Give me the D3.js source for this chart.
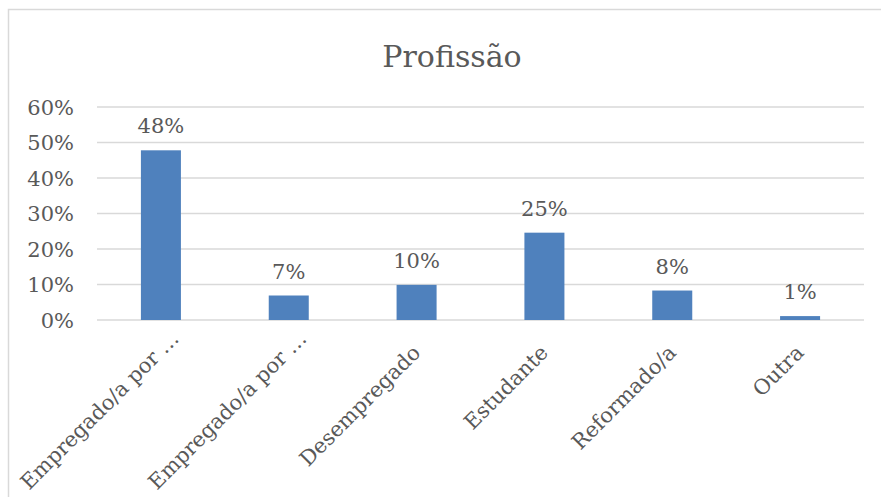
<!DOCTYPE html>
<html>
<head>
<meta charset="utf-8">
<script src="https://cdn.jsdelivr.net/npm/d3@7"></script>
<style>
  body { margin: 0; background: #fff; }
  text { font-family: "DejaVu Serif", serif; fill: #595959; }
</style>
</head>
<body>
<div id="my_dataviz"></div>
<script>
// categories and values
var categories = ["Empregado/a por …", "Empregado/a por …", "Desempregado", "Estudante", "Reformado/a", "Outra"];
var values = [0.478, 0.069, 0.099, 0.246, 0.083, 0.011];
var yTicks = [0, 0.1, 0.2, 0.3, 0.4, 0.5, 0.6];
var title = "Profissão";

var W = 881, H = 497;
var margin = { top: 107, right: 17, bottom: 177, left: 97 },
    width = W - margin.left - margin.right,
    height = H - margin.top - margin.bottom;

var root = d3.select("#my_dataviz")
  .append("svg")
  .attr("width", W)
  .attr("height", H);

// chart frame (only left and top edges are in view)
root.append("rect")
  .attr("x", 8.5).attr("y", 9.5)
  .attr("width", W + 20).attr("height", H + 20)
  .attr("fill", "none")
  .attr("stroke", "#d9d9d9")
  .attr("stroke-width", 1.5);

root.append("text")
  .attr("x", 452)
  .attr("y", 67)
  .attr("text-anchor", "middle")
  .style("font-size", "30px")
  .text(title);

var svg = root.append("g")
  .attr("transform", "translate(" + margin.left + "," + margin.top + ")");

var x = d3.scaleBand()
  .domain(d3.range(categories.length))
  .range([0, width])
  .paddingInner(0.687)
  .paddingOuter(0.3435);

var y = d3.scaleLinear()
  .domain([0, 0.6])
  .range([height, 0]);

// gridlines
svg.append("g")
  .selectAll("line")
  .data(yTicks)
  .enter()
  .append("line")
  .attr("x1", 0)
  .attr("x2", width)
  .attr("y1", function (d) { return y(d); })
  .attr("y2", function (d) { return y(d); })
  .attr("stroke", "#d9d9d9")
  .attr("stroke-width", 1.5);

// y axis labels
var yAxis = svg.append("g")
  .attr("transform", "translate(-23,0)")
  .call(d3.axisLeft(y).tickValues(yTicks).tickFormat(d3.format(".0%")).tickSize(0));
yAxis.select(".domain").remove();
yAxis.selectAll("text")
  .attr("x", 0)
  .attr("dy", "0.35em")
  .style("font-size", "21px")
  .style("font-family", "DejaVu Serif, serif")
  .attr("fill", "#595959");

// bars
svg.append("g")
  .selectAll("rect")
  .data(values)
  .enter()
  .append("rect")
  .attr("x", function (d, i) { return x(i); })
  .attr("y", function (d) { return y(d); })
  .attr("width", x.bandwidth())
  .attr("height", function (d) { return height - y(d); })
  .attr("fill", "#4f81bd");

// value labels
svg.append("g")
  .selectAll("text")
  .data(values)
  .enter()
  .append("text")
  .attr("x", function (d, i) { return x(i) + x.bandwidth() / 2; })
  .attr("y", function (d) { return y(d) - 17; })
  .attr("text-anchor", "middle")
  .style("font-size", "21px")
  .text(function (d) { return d3.format(".0%")(d); });

// category labels, rotated
svg.append("g")
  .selectAll("text")
  .data(categories)
  .enter()
  .append("text")
  .attr("transform", function (d, i) {
    return "translate(" + (x(i) + x.bandwidth() / 2 + 5) + "," + (height + 34) + ") rotate(-45)";
  })
  .attr("dx", function (d) { return d.slice(-1) == "…" ? 20 : 0; })
  .attr("text-anchor", "end")
  .style("font-size", "21px")
  .text(function (d) { return d; });
</script>
</body>
</html>
